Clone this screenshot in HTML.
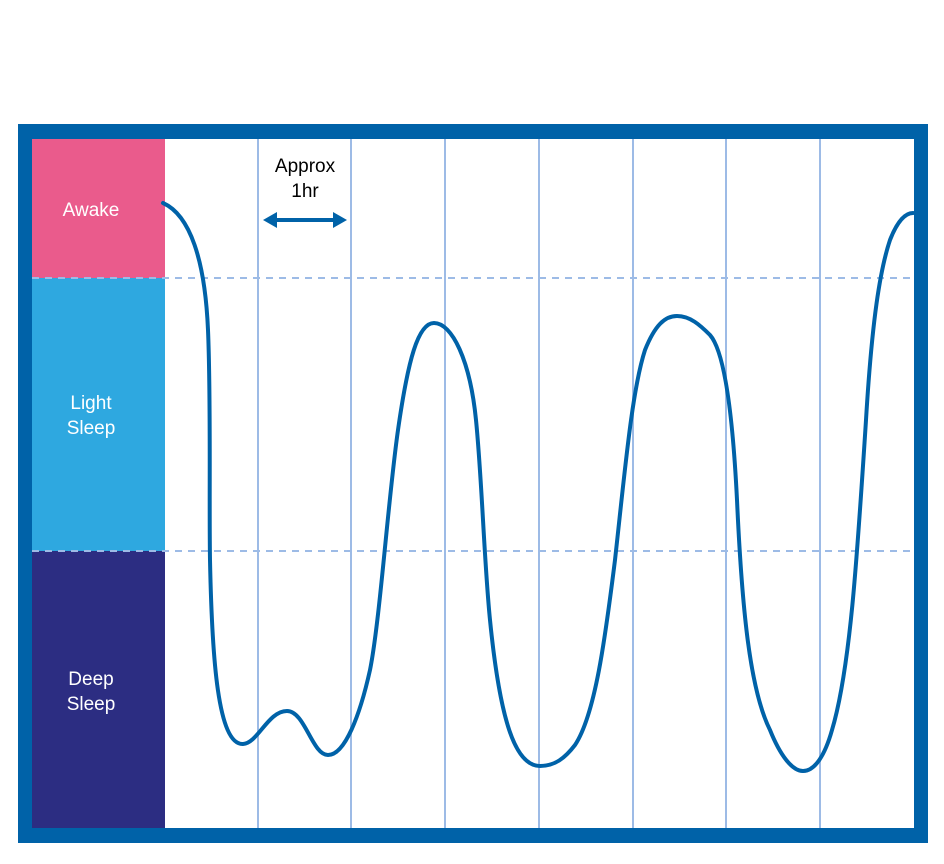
<!DOCTYPE html>
<html><head><style>
html,body{margin:0;padding:0;background:#fff;}
svg{display:block;}
text{font-family:"Liberation Sans",sans-serif;font-size:19px;}
</style></head><body>
<svg width="944" height="864" viewBox="0 0 944 864">
<rect x="18" y="124" width="910" height="719" fill="#0062a8"/>
<rect x="32" y="139" width="882" height="689" fill="#fff"/>
<rect x="32" y="139" width="133" height="139" fill="#ea5b8c"/>
<rect x="32" y="278" width="133" height="273" fill="#2ea8e0"/>
<rect x="32" y="551" width="133" height="277" fill="#2c2d82"/>
<g stroke="#9dbbe6" stroke-width="2">
<line x1="258" y1="139" x2="258" y2="828"/>
<line x1="351" y1="139" x2="351" y2="828"/>
<line x1="445" y1="139" x2="445" y2="828"/>
<line x1="539" y1="139" x2="539" y2="828"/>
<line x1="633" y1="139" x2="633" y2="828"/>
<line x1="726" y1="139" x2="726" y2="828"/>
<line x1="820" y1="139" x2="820" y2="828"/>
</g>
<g stroke="#9dbbe6" stroke-width="2" stroke-dasharray="7,6">
<line x1="32" y1="278" x2="914" y2="278"/>
<line x1="32" y1="551" x2="914" y2="551"/>
</g>
<text x="91" y="216" fill="#fff" text-anchor="middle">Awake</text>
<text x="91" y="409" fill="#fff" text-anchor="middle">Light</text>
<text x="91" y="434" fill="#fff" text-anchor="middle">Sleep</text>
<text x="91" y="685" fill="#fff" text-anchor="middle">Deep</text>
<text x="91" y="710" fill="#fff" text-anchor="middle">Sleep</text>
<text x="305" y="172" fill="#000" text-anchor="middle">Approx</text>
<text x="305" y="197" fill="#000" text-anchor="middle">1hr</text>
<line x1="272" y1="220" x2="338" y2="220" stroke="#0062a8" stroke-width="4"/>
<polygon points="263,220 277,212 277,228" fill="#0062a8"/>
<polygon points="347,220 333,212 333,228" fill="#0062a8"/>
<path fill="none" stroke="#0062a8" stroke-width="4" stroke-linecap="round" d="M163,203 C190,215 205,260 208,330 C211,400 209,500 210,560 C212,660 218,745 243,744 C258,743 268,711 287,711 C305,711 312,755 328,755 C345,755 360,715 370,670 C380,620 388,500 398,430 C408,360 418,323 434,323 C452,323 470,360 476,420 C482,480 484,560 490,620 C500,720 515,766 540,766 C555,766 565,758 575,745 C595,715 605,640 615,560 C625,470 632,390 645,350 C655,325 665,316 677,316 C690,316 700,325 710,335 C725,352 733,420 737,500 C742,610 750,690 770,730 C780,755 792,771 803,771 C815,771 825,755 832,730 C850,670 857,560 866,420 C872,320 880,270 890,240 C897,222 905,213 913,213"/>
</svg>
</body></html>
